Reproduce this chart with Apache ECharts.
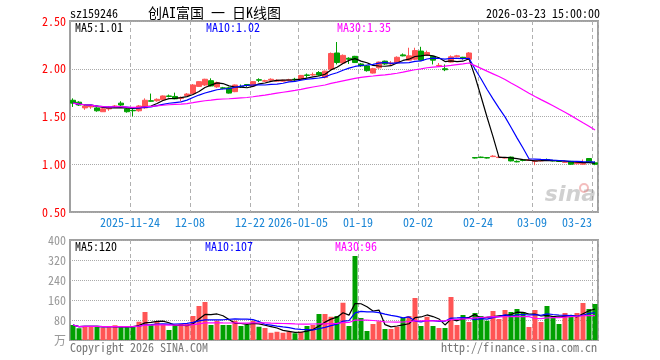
<!DOCTYPE html>
<html><head><meta charset="utf-8">
<script src="https://cdn.jsdelivr.net/npm/echarts@6/dist/echarts.min.js"></script>
<style>html,body{margin:0;padding:0;background:#fff}#c{width:660px;height:360px}</style>
</head><body><div id="c"></div>
<script>
const dates = ['2025-11-10','2025-11-11','2025-11-12','2025-11-13','2025-11-14','2025-11-17','2025-11-18','2025-11-19','2025-11-20','2025-11-21','2025-11-24','2025-11-25','2025-11-26','2025-11-27','2025-11-28',
'2025-12-01','2025-12-02','2025-12-03','2025-12-04','2025-12-05','2025-12-08','2025-12-09','2025-12-10','2025-12-11','2025-12-12','2025-12-15','2025-12-16','2025-12-17','2025-12-18','2025-12-19','2025-12-22','2025-12-23','2025-12-24','2025-12-25','2025-12-26','2025-12-29','2025-12-30','2025-12-31',
'2026-01-05','2026-01-06','2026-01-07','2026-01-08','2026-01-09','2026-01-12','2026-01-13','2026-01-14','2026-01-15','2026-01-16','2026-01-19','2026-01-20','2026-01-21','2026-01-22','2026-01-23','2026-01-26','2026-01-27','2026-01-28','2026-01-29','2026-01-30',
'2026-02-02','2026-02-03','2026-02-04','2026-02-05','2026-02-06','2026-02-09','2026-02-10','2026-02-11','2026-02-12','2026-02-13','2026-02-24','2026-02-25','2026-02-26','2026-02-27',
'2026-03-02','2026-03-03','2026-03-04','2026-03-05','2026-03-06','2026-03-09','2026-03-10','2026-03-11','2026-03-12','2026-03-13','2026-03-16','2026-03-17','2026-03-18','2026-03-19','2026-03-20','2026-03-23'];

const openP = [1.67,1.65,1.59,1.60,1.59,1.55,1.58,1.60,1.64,1.58,
1.565,1.56,1.59,1.665,1.665,1.675,1.715,1.71,1.69,1.72,
1.74,1.815,1.83,1.875,1.81,1.80,1.80,1.76,1.815,1.835,
1.82,1.885,1.87,1.88,1.87,1.87,1.875,1.89,1.89,1.935,
1.935,1.96,1.91,1.995,2.165,2.06,2.11,2.13,2.05,2.03,
1.955,2.01,2.08,2.05,2.06,2.145,2.09,2.10,2.185,2.14,
2.13,2.03,2.0,2.07,2.125,2.12,2.10,1.07,1.075,1.07,
1.08,1.07,1.065,1.075,1.03,1.045,1.04,1.03,1.035,1.05,
1.04,1.035,1.02,1.03,1.005,1.0,1.06,1.015];

const closeP = [1.64,1.62,1.61,1.61,1.56,1.58,1.59,1.61,1.62,1.55,
1.56,1.61,1.67,1.66,1.68,1.715,1.71,1.685,1.695,1.735,
1.83,1.865,1.89,1.82,1.855,1.795,1.745,1.83,1.81,1.825,
1.865,1.88,1.875,1.89,1.88,1.88,1.885,1.885,1.93,1.93,
1.94,1.935,1.975,2.16,2.065,2.14,2.10,2.065,2.03,1.98,
2.00,2.07,2.05,2.06,2.12,2.135,2.135,2.19,2.09,2.17,
2.09,2.035,1.99,2.125,2.135,2.11,2.165,1.065,1.07,1.065,
1.085,1.075,1.07,1.035,1.025,1.04,1.045,1.035,1.04,1.04,
1.035,1.03,1.025,1.00,1.02,1.01,1.025,1.00];

const lowP = [1.60,1.61,1.57,1.58,1.55,1.55,1.56,1.59,1.61,1.54,
1.50,1.55,1.58,1.655,1.655,1.67,1.70,1.68,1.66,1.715,
1.73,1.81,1.82,1.815,1.80,1.785,1.74,1.755,1.80,1.81,
1.815,1.86,1.86,1.87,1.865,1.865,1.87,1.875,1.885,1.905,
1.925,1.925,1.90,1.99,2.045,2.05,2.05,2.06,2.02,1.97,
1.95,2.00,2.04,2.04,2.05,2.13,2.085,2.09,2.08,2.135,
2.045,2.025,1.975,2.065,2.12,2.095,2.095,1.06,1.065,1.06,
1.075,1.065,1.06,1.03,1.02,1.03,1.035,0.99,1.03,1.035,
1.03,1.025,1.015,0.995,1.0,0.995,1.02,0.99];

const highP = [1.69,1.66,1.62,1.62,1.60,1.59,1.61,1.62,1.66,1.59,
1.59,1.62,1.69,1.74,1.69,1.72,1.73,1.75,1.71,1.745,
1.84,1.87,1.895,1.90,1.865,1.81,1.81,1.835,1.835,1.84,
1.87,1.90,1.885,1.90,1.89,1.885,1.895,1.905,1.935,1.95,
1.96,1.975,1.98,2.17,2.28,2.15,2.12,2.135,2.06,2.04,
2.01,2.075,2.085,2.08,2.13,2.16,2.22,2.22,2.23,2.19,
2.135,2.06,2.045,2.14,2.145,2.125,2.175,1.075,1.08,1.075,
1.095,1.085,1.075,1.08,1.04,1.05,1.055,1.04,1.05,1.06,
1.045,1.04,1.03,1.035,1.03,1.05,1.065,1.03];

const volume = [60,47,56,56,53,49,51,59,51,51,
56,73,112,60,73,60,40,60,64,64,
96,136,152,60,77,60,60,77,56,61,
77,53,48,29,33,29,33,27,33,56,
60,104,104,93,96,149,56,336,88,36,
64,75,44,44,53,88,96,168,56,93,
56,48,48,172,60,100,72,108,96,77,
116,84,120,112,124,112,52,120,72,136,
88,64,108,96,108,148,124,144];

const tickDates  = ['2025-11-24','2025-12-08','2025-12-22','2026-01-05','2026-01-19','2026-02-02','2026-02-24','2026-03-09','2026-03-23'];
const tickLabels = ['2025-11-24','12-08','12-22','2026-01-05','01-19','02-02','02-24','03-09','03-23'];

const priceLegend = ['MA5:1.01','MA10:1.02','MA30:1.35'];
const volLegend = ['MA5:120','MA10:107','MA30:96'];

const RED = '#ff5555', GREEN = '#00a000';
const MA_COLORS = ['#000000','#0000ff','#ff00ff'];
const MONO = '"Noto Sans Mono CJK SC", "DejaVu Sans Mono", monospace';

function movingAvg(arr, n) {
  return arr.map(function (_, i) {
    const s = Math.max(0, i - n + 1);
    let sum = 0;
    for (let k = s; k <= i; k++) sum += arr[k];
    return +(sum / (i - s + 1)).toFixed(4);
  });
}

const candleData = dates.map(function (d, i) { return [openP[i], closeP[i], lowP[i], highP[i]]; });
const volData = volume.map(function (v, i) {
  return { value: v, itemStyle: { color: closeP[i] >= openP[i] ? RED : GREEN } };
});

const tickIndex = {};
tickDates.forEach(function (d, k) { tickIndex[d] = k; });
const isTick = function (idx, val) { return val in tickIndex; };

const splitV = { show: true, interval: isTick, lineStyle: { color: '#b0b0b0', type: [4, 3], width: 1 } };

const chart = echarts.init(document.getElementById('c'), null, { renderer: 'canvas' });

const periods = [5, 10, 30];
const series = [{
  type: 'candlestick', xAxisIndex: 0, yAxisIndex: 0, data: candleData, barWidth: 5,
  itemStyle: { color: RED, color0: GREEN, borderColor: RED, borderColor0: GREEN, borderWidth: 1 }
}];
periods.forEach(function (p, k) {
  series.push({ type: 'line', xAxisIndex: 0, yAxisIndex: 0, data: movingAvg(closeP, p),
    showSymbol: false, symbol: 'none', lineStyle: { color: MA_COLORS[k], width: 1.2 }, z: 3 });
});
series.push({ type: 'bar', xAxisIndex: 1, yAxisIndex: 1, data: volData, barWidth: 5 });
periods.forEach(function (p, k) {
  series.push({ type: 'line', xAxisIndex: 1, yAxisIndex: 1, data: movingAvg(volume, p),
    showSymbol: false, symbol: 'none', lineStyle: { color: MA_COLORS[k], width: 1.2 }, z: 3 });
});

function txt(x, y, text, color, opts) {
  opts = opts || {};
  return { type: 'text', x: x, y: y, z: 10, silent: true,
    style: { text: text, fill: color, font: (opts.font || ('12px ' + MONO)),
      align: opts.align || 'left', verticalAlign: 'middle' } };
}

const graphics = [
  txt(70, 13, 'sz159246', '#000'),
  txt(148, 13, '创AI富国 一 日K线图', '#000', { font: '14px ' + MONO }),
  txt(600, 13, '2026-03-23 15:00:00', '#000', { align: 'right' }),
  txt(75, 27, priceLegend[0], MA_COLORS[0]),
  txt(206, 27, priceLegend[1], MA_COLORS[1]),
  txt(337, 27, priceLegend[2], MA_COLORS[2]),
  txt(75, 246, volLegend[0], MA_COLORS[0]),
  txt(205, 246, volLegend[1], MA_COLORS[1]),
  txt(335, 246, volLegend[2], MA_COLORS[2]),
  txt(70, 347, 'Copyright 2026 SINA.COM', '#777'),
  txt(597, 347, 'http://finance.sina.com.cn', '#777', { align: 'right' }),
  { type: 'text', x: 596, y: 206, z: 1, silent: true,
    style: { text: 'sina', fill: 'rgba(150,150,150,0.45)', font: 'italic bold 22px "DejaVu Sans"', align: 'right', verticalAlign: 'bottom' } },
  { type: 'circle', shape: { cx: 584, cy: 188, r: 4 }, z: 1, silent: true,
    style: { fill: 'none', stroke: 'rgba(230,110,110,0.45)', lineWidth: 2 } }
];

chart.setOption({
  animation: false,
  backgroundColor: '#fff',
  grid: [
    { left: 70, top: 21, width: 528, height: 191, show: true, borderColor: '#a0a0a0', borderWidth: 2, backgroundColor: 'transparent' },
    { left: 70, top: 240, width: 528, height: 100, show: true, borderColor: '#a0a0a0', borderWidth: 2, backgroundColor: 'transparent' }
  ],
  xAxis: [
    { type: 'category', gridIndex: 0, data: dates, boundaryGap: true,
      axisLine: { show: false }, axisTick: { show: false }, splitLine: splitV,
      axisLabel: { interval: isTick, margin: 4, color: '#1a86d6', fontFamily: MONO, fontSize: 12,
        formatter: function (v) {
          const k = tickIndex[v];
          if (k === undefined) return '';
          return '{' + (k === tickDates.length - 1 ? 'r' : 'n') + '|' + tickLabels[k] + '}';
        },
        rich: {
          n: { padding: [0, 6, 0, 0], color: '#1a86d6', fontFamily: MONO, fontSize: 12 },
          r: { padding: [0, 36, 0, 0], color: '#1a86d6', fontFamily: MONO, fontSize: 12 }
        } } },
    { type: 'category', gridIndex: 1, data: dates, boundaryGap: true,
      axisLine: { show: false }, axisTick: { show: false }, splitLine: splitV,
      axisLabel: { show: false } }
  ],
  yAxis: [
    { type: 'value', gridIndex: 0, min: 0.5, max: 2.5, interval: 0.5,
      axisLine: { show: false }, axisTick: { show: false },
      splitLine: { show: true, lineStyle: { color: '#aaa', type: 'dotted', width: 1 } },
      axisLabel: { color: '#ff0000', margin: 4, fontFamily: MONO, fontSize: 12,
        formatter: function (v) { return v.toFixed(2); } } },
    { type: 'value', gridIndex: 1, min: 0, max: 400, interval: 80,
      axisLine: { show: false }, axisTick: { show: false },
      splitLine: { show: true, lineStyle: { color: '#aaa', type: 'dotted', width: 1 } },
      axisLabel: { color: '#999', margin: 4, fontFamily: MONO, fontSize: 12,
        formatter: function (v) { return v === 0 ? '万' : String(v); } } }
  ],
  graphic: graphics,
  series: series
});
</script></body></html>
